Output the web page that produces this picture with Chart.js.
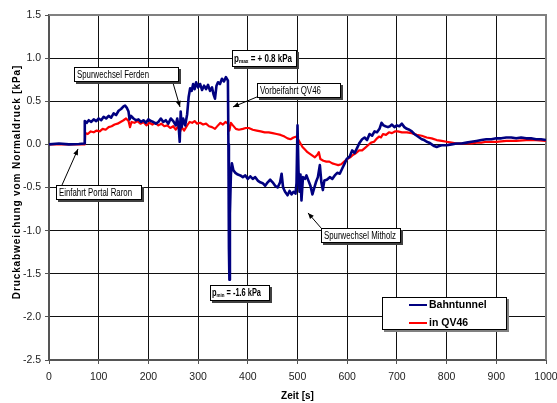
<!DOCTYPE html>
<html><head><meta charset="utf-8">
<script src="https://cdn.jsdelivr.net/npm/chart.js@4.4.0/dist/chart.umd.min.js"></script>
<style>html,body{margin:0;padding:0;background:#fff;}#wrap{width:557px;height:403px;}</style>
</head><body><div id="wrap"><canvas id="c" width="557" height="403"></canvas></div>
<script>
// ---- data (time in s, pressure deviation in kPa) ----
const bahnTime = [0,20,40,60,71,72,76,80,85,90,95,100,105,110,115,120,125,130,135,140,145,150,153,157,160,162,165,170,175,180,185,190,195,200,205,210,215,220,225,230,235,240,245,250,255,258,261,263,265,267,270,274,278,281,284,287,290,293,296,300,304,308,312,316,320,324,328,331,334,337,340,344,348,352,356,360,361,362,363,364,366,368,371,375,380,385,390,395,400,405,410,415,420,425,430,435,440,445,450,455,460,465,468,471,475,480,484,488,492,496,498,500,502,504,506,508,511,515,518,522,526,530,533,537,541,545,548,551,554,559,565,570,575,580,585,590,595,599,605,610,615,620,625,630,635,640,645,650,655,660,665,669,673,677,682,686,690,695,700,705,710,715,720,725,730,735,740,745,750,755,760,765,770,775,780,785,790,800,810,820,830,840,850,860,870,880,890,900,910,920,930,940,950,960,970,980,990,1000];
const bahnValue = [0,0.01,0,0.005,0.01,0.27,0.25,0.28,0.26,0.29,0.27,0.30,0.28,0.32,0.30,0.33,0.31,0.36,0.34,0.39,0.41,0.44,0.45,0.42,0.38,0.29,0.33,0.30,0.28,0.29,0.26,0.28,0.25,0.29,0.27,0.26,0.24,0.26,0.30,0.26,0.28,0.24,0.30,0.27,0.22,0.30,0.20,0.03,0.38,0.20,0.30,0.22,0.35,0.55,0.65,0.62,0.70,0.64,0.72,0.66,0.70,0.63,0.68,0.64,0.69,0.62,0.66,0.58,0.53,0.68,0.72,0.70,0.76,0.73,0.78,0.74,0.0,-1.2,-1.57,-0.8,-0.35,-0.22,-0.30,-0.33,-0.35,-0.36,-0.38,-0.36,-0.40,-0.37,-0.40,-0.38,-0.42,-0.44,-0.45,-0.48,-0.44,-0.41,-0.44,-0.48,-0.50,-0.44,-0.34,-0.50,-0.55,-0.59,-0.54,-0.58,-0.55,-0.57,-0.45,0.22,-0.30,-0.55,-0.35,-0.65,-0.38,-0.40,-0.36,-0.42,-0.48,-0.58,-0.52,-0.44,-0.38,-0.24,-0.44,-0.53,-0.42,-0.41,-0.38,-0.40,-0.36,-0.33,-0.34,-0.28,-0.22,-0.17,-0.14,-0.07,-0.10,-0.04,0.02,0.06,0.08,0.05,0.12,0.10,0.15,0.14,0.18,0.25,0.22,0.21,0.20,0.21,0.23,0.20,0.22,0.21,0.24,0.20,0.18,0.17,0.15,0.12,0.10,0.08,0.06,0.05,0.03,0.02,0.0,-0.02,-0.03,-0.02,-0.01,-0.01,0.00,0.01,0.01,0.02,0.03,0.04,0.05,0.06,0.06,0.07,0.07,0.08,0.08,0.07,0.08,0.07,0.07,0.06,0.06,0.05];
const qvTime = [0,72,73,78,84,90,96,102,108,114,120,126,132,138,144,150,155,160,163,166,172,178,184,190,196,202,208,214,220,226,232,238,244,250,255,260,264,267,272,278,283,288,293,298,304,310,316,322,328,334,340,345,350,355,360,363,366,370,376,382,390,396,402,410,418,426,434,442,450,458,466,474,480,486,492,498,502,506,510,515,520,525,530,535,540,543,546,552,558,564,570,576,582,588,594,600,606,612,618,624,630,636,642,648,654,660,664,668,672,678,684,690,696,702,710,720,730,740,750,760,770,780,790,800,810,820,830,840,850,860,870,880,890,900,920,940,960,980,1000];
const qvValue = [0,0,0.13,0.12,0.15,0.14,0.16,0.15,0.18,0.17,0.20,0.21,0.23,0.24,0.26,0.28,0.30,0.27,0.20,0.26,0.25,0.27,0.24,0.26,0.22,0.25,0.23,0.25,0.22,0.24,0.21,0.22,0.19,0.21,0.17,0.21,0.15,0.20,0.16,0.22,0.26,0.25,0.27,0.24,0.25,0.23,0.24,0.21,0.20,0.18,0.22,0.25,0.23,0.26,0.24,0.16,0.25,0.22,0.18,0.17,0.18,0.19,0.19,0.17,0.16,0.15,0.14,0.14,0.13,0.12,0.11,0.09,0.07,0.06,0.08,0.09,0.05,0.01,-0.03,-0.06,-0.09,-0.11,-0.13,-0.15,-0.12,-0.09,-0.17,-0.19,-0.20,-0.20,-0.22,-0.23,-0.24,-0.23,-0.20,-0.17,-0.15,-0.12,-0.10,-0.07,-0.07,-0.04,-0.01,0.02,0.03,0.07,0.09,0.08,0.12,0.11,0.14,0.13,0.15,0.15,0.14,0.14,0.13,0.11,0.10,0.08,0.07,0.05,0.04,0.03,0.02,0.01,0.01,0.01,0.01,0.02,0.02,0.03,0.03,0.03,0.04,0.04,0.05,0.05,0.04];
const seriesLabels = ['Bahntunnel','in QV46'];
const xTitle = 'Zeit [s]';
const yTitle = 'Druckabweichung vom Normaldruck [kPa]';

// annotations: box top-left in data coords, size in px, optional arrow (data coords)
const notes = [
  {text:'Spurwechsel Ferden', x:50.3, y:0.897, w:105, h:15, tw:72, arrow:[249.5,0.712,263.6,0.434]},
  {pText:['p','max',' = + 0.8 kPa'], x:368.2, y:1.094, w:65, h:17, tw:58},
  {text:'Vorbeifahrt QV46', x:418.5, y:0.712, w:84, h:15, tw:61, arrow:[418.5,0.55,370.2,0.434]},
  {text:'Einfahrt Portal Raron', x:14.1, y:-0.471, w:86, h:15, tw:73, arrow:[26.2,-0.471,58.4,-0.053]},
  {pText:['p','min',' = -1.6 kPa'], x:324, y:-1.63, w:60, h:16, tw:49},
  {text:'Spurwechsel Mitholz', x:547.3, y:-0.969, w:80, h:15, tw:72, arrow:[547.3,-0.969,521.1,-0.795]}
];
const legendPos = {x:670, y:-1.768, w:125, h:33};

const FONT = '"Liberation Sans", Arial, sans-serif';

function box(ctx,x,y,w,h,shadow){
  ctx.fillStyle = shadow; ctx.fillRect(x+2,y+2,w,h);
  ctx.fillStyle = '#fff'; ctx.fillRect(x,y,w,h);
  ctx.strokeStyle = '#000'; ctx.lineWidth = 1; ctx.strokeRect(x+0.5,y+0.5,w-1,h-1);
}
function fitText(ctx,t,x,y,tw){
  const m = ctx.measureText(t).width;
  ctx.save(); ctx.translate(x,y); ctx.scale(tw/m,1); ctx.fillText(t,0,0); ctx.restore();
}
function arrow(ctx,x1,y1,x2,y2){
  ctx.strokeStyle='#000'; ctx.fillStyle='#000'; ctx.lineWidth=1;
  ctx.beginPath(); ctx.moveTo(x1,y1); ctx.lineTo(x2,y2); ctx.stroke();
  const a = Math.atan2(y2-y1,x2-x1), L=6, W=2.5;
  ctx.beginPath(); ctx.moveTo(x2,y2);
  ctx.lineTo(x2-L*Math.cos(a)+W*Math.sin(a), y2-L*Math.sin(a)-W*Math.cos(a));
  ctx.lineTo(x2-L*Math.cos(a)-W*Math.sin(a), y2-L*Math.sin(a)+W*Math.cos(a));
  ctx.closePath(); ctx.fill();
}

const deco = {
  id:'deco',
  beforeDatasetsDraw(chart){
    const {ctx, chartArea:a} = chart;
    ctx.save(); ctx.strokeStyle='#808080'; ctx.lineWidth=2;
    ctx.beginPath(); ctx.moveTo(a.left,a.top); ctx.lineTo(a.right,a.top); ctx.lineTo(a.right,a.bottom); ctx.stroke();
    ctx.restore();
  },
  afterDraw(chart){
    const {ctx, scales:{x,y}, chartArea:a} = chart;
    ctx.save();
    // titles
    ctx.fillStyle='#000'; ctx.font='bold 10px '+FONT; ctx.textAlign='center'; ctx.textBaseline='middle';
    ctx.save(); ctx.translate(17,182); ctx.rotate(-Math.PI/2);
    ctx.letterSpacing='0.9px'; ctx.fillText(yTitle,0,0); ctx.restore();
    ctx.fillText(xTitle,(a.left+a.right)/2,396);
    // annotations
    notes.forEach(n=>{
      const bx = Math.round(x.getPixelForValue(n.x)), by = Math.round(y.getPixelForValue(n.y));
      if(n.arrow){ arrow(ctx,x.getPixelForValue(n.arrow[0]),y.getPixelForValue(n.arrow[1]),x.getPixelForValue(n.arrow[2]),y.getPixelForValue(n.arrow[3])); }
      box(ctx,bx,by,n.w,n.h,'#404040');
      ctx.fillStyle='#000'; ctx.textAlign='left'; ctx.textBaseline='middle';
      if(n.text){ ctx.font='10px '+FONT; fitText(ctx,n.text,bx+3,by+n.h/2+0.5,n.tw); }
      else {
        const cy = by+n.h/2+0.5;
        ctx.font='bold 10px '+FONT; const w0 = ctx.measureText(n.pText[0]).width, w2 = ctx.measureText(n.pText[2]).width;
        ctx.font='bold 6px '+FONT; const w1 = ctx.measureText(n.pText[1]).width;
        const sc = n.tw/(w0+w1+w2);
        ctx.save(); ctx.translate(bx+2,cy); ctx.scale(sc,1);
        ctx.font='bold 10px '+FONT; ctx.fillText(n.pText[0],0,0);
        ctx.font='bold 6px '+FONT; ctx.fillText(n.pText[1],w0,2);
        ctx.font='bold 10px '+FONT; ctx.fillText(n.pText[2],w0+w1,0);
        ctx.restore();
      }
    });
    // legend
    const lx = Math.round(x.getPixelForValue(legendPos.x)), ly = Math.round(y.getPixelForValue(legendPos.y));
    box(ctx,lx,ly,legendPos.w,legendPos.h,'#808080');
    chart.data.datasets.forEach((d,i)=>{
      const yy = ly+8+i*18;
      ctx.strokeStyle=d.borderColor; ctx.lineWidth=2;
      ctx.beginPath(); ctx.moveTo(lx+27,yy); ctx.lineTo(lx+45,yy); ctx.stroke();
      ctx.fillStyle='#000'; ctx.font='bold 10.5px '+FONT; ctx.textAlign='left'; ctx.textBaseline='middle';
      ctx.fillText(d.label,lx+47,yy+0.5);
    });
    ctx.restore();
  }
};

const toPts = (t,v)=>t.map((tt,i)=>({x:tt,y:v[i]}));

new Chart(document.getElementById('c'),{
  type:'line',
  data:{datasets:[
    {label:seriesLabels[0], data:toPts(bahnTime,bahnValue), borderColor:'#000080', borderWidth:2.6, pointRadius:0, tension:0, borderJoinStyle:'round'},
    {label:seriesLabels[1], data:toPts(qvTime,qvValue), borderColor:'#ff0000', borderWidth:2.2, pointRadius:0, tension:0, borderJoinStyle:'round'}
  ]},
  options:{
    responsive:false, animation:false, devicePixelRatio:1,
    layout:{padding:{top:15,right:11,left:0,bottom:0}},
    plugins:{legend:{display:false}, tooltip:{enabled:false}},
    scales:{
      x:{type:'linear', min:0, max:1000,
         ticks:{stepSize:100, color:'#222', font:{family:FONT,size:10.5}, padding:7, maxRotation:0, callback:v=>String(v)},
         grid:{color:'#111', lineWidth:1, tickLength:4, tickColor:'#555'},
         border:{color:'#555', width:2},
         afterFit(s){s.height=43; s.paddingLeft=0; s.paddingRight=0;}},
      y:{min:-2.5, max:1.5,
         ticks:{stepSize:0.5, color:'#222', font:{family:FONT,size:10.5}, padding:4, callback:v=>v.toFixed(1)},
         grid:{color:'#111', lineWidth:1, tickLength:4, tickColor:'#555'},
         border:{color:'#555', width:2},
         afterFit(s){s.width=49; s.paddingTop=0; s.paddingBottom=0;}}
    }
  },
  plugins:[deco]
});
</script></body></html>
